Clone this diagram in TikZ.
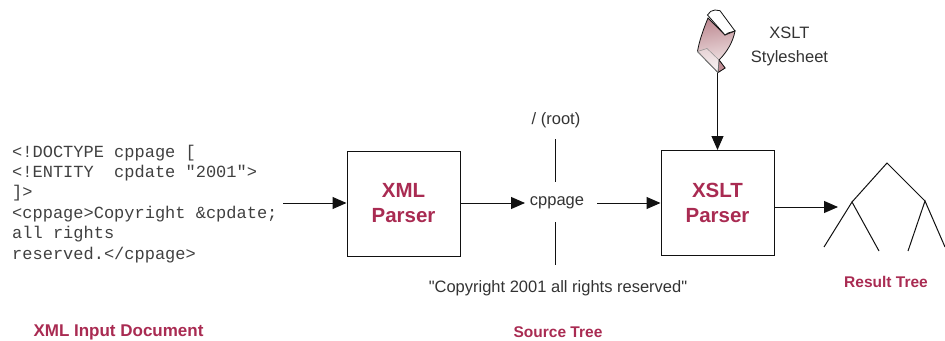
\documentclass[tikz,border=0pt]{standalone}
\usepackage{fontspec}
\setmainfont{Liberation Sans}
\setmonofont{Liberation Mono}
\newfontfamily\labfont{Liberation Sans}
\usetikzlibrary{arrows.meta}
\definecolor{berry}{HTML}{A92B52}
\definecolor{inkline}{HTML}{111111}
\definecolor{sheetdark}{HTML}{BF8C94}
\definecolor{sheetlight}{HTML}{F7F0F0}
\tikzset{
  x=1pt,y=-1pt,
  flow/.style={draw=inkline,line width=1pt,-{Triangle[length=14pt,width=12pt]}},
  plain/.style={draw=inkline,line width=1pt},
  parser/.style={draw=inkline,line width=1pt,minimum width=113pt,minimum height=105pt,inner sep=0pt,
    font=\fontsize{20.5}{25}\selectfont\bfseries,text=berry,align=center},
  caption/.style={font=\fontsize{15.5}{19}\selectfont\bfseries,text=berry,inner sep=0pt},
  lab/.style={font=\labfont\fontsize{16.5}{24}\selectfont,text=black!80,inner sep=0pt,align=center},
  code/.style={font=\fontsize{17}{20.4}\selectfont\ttfamily,text=black!75,inner sep=0pt,align=left,anchor=north west},
}
\begin{document}
\begin{tikzpicture}
\useasboundingbox (0,0) rectangle (945,340);
% text and boxes
\node[code] (input) at (12,144.5) {<!DOCTYPE cppage [\\<!ENTITY~~cpdate "2001">\\]>\\<cppage>Copyright \&cpdate;\\all rights\\reserved.</cppage>};
\node[parser] (xmlp) at (403.5,203.5) {XML\\Parser};
\node[parser] (xsltp) at (717.5,203) {XSLT\\Parser};
\node[lab] (root) at (556,120.5) {/ (root)};
\node[lab] (cppage) at (557,203) {cppage};
\node[lab] (copy) at (558,288.5) {"Copyright 2001 all rights reserved"};
\node[lab] (sheetlab) at (789.5,46.5) {XSLT\\Stylesheet};
\node[caption,font=\fontsize{17}{19}\selectfont\bfseries] (c1) at (118.5,332.5) {XML Input Document};
\node[caption] (c2) at (558,332) {Source Tree};
\node[caption] (c3) at (886,282) {Result Tree};
% stylesheet icon
\path[top color=sheetdark,bottom color=sheetlight,shading angle=10,draw=inkline,line width=.8pt]
  (708,18) .. controls (703,30) and (699,42) .. (697.5,51.5) -- (718,72.5) -- (725,68) -- (719,60) .. controls (727,52) and (733,42) .. (735,31) -- (725,35) -- cycle;
\path[fill=sheetdark,draw=inkline,line width=.7pt] (718,72.5) -- (725,68) -- (719,60) -- cycle;
\path[draw=black!45,line width=.5pt,fill=white,fill opacity=.3] (697.5,51.5) -- (707,48.5) -- (719,60) -- (718,72.5) -- cycle;
\path[draw=inkline,line width=.8pt,fill=white]
  (707.5,15) .. controls (709,12) and (712,10) .. (715,10) -- (720,10.7) -- (735,31) -- (728,33) -- (725,35) -- cycle;
\coordinate (sheet) at (717.5,72.5);
% connectors
\coordinate (inS) at (283,203);
\coordinate (inE) at (346.5,203);
\coordinate (xmlOut) at (460,203);
\coordinate (rootIn) at (525,203);
\coordinate (cpOut) at (597,203);
\coordinate (xsltIn) at (660.5,203);
\coordinate (xsltOut) at (774,207);
\coordinate (treeIn) at (838,207);
\draw[flow] (inS) -- (inE);
\draw[flow] (xmlOut) -- (rootIn);
\draw[flow] (cpOut) -- (xsltIn);
\draw[flow] (xsltOut) -- (treeIn);
\draw[flow] (sheet) -- (xsltp.north);
\coordinate (upA) at (555,139);
\coordinate (upB) at (555,182);
\coordinate (dnA) at (555,222);
\coordinate (dnB) at (555,265);
\draw[plain] (upA) -- (upB);
\draw[plain] (dnA) -- (dnB);
% result tree
\coordinate (apex) at (887,163);
\coordinate (tl) at (852,202);
\coordinate (tr) at (925,201);
\coordinate (l1) at (824,247);
\coordinate (l2) at (879,251);
\coordinate (l3) at (908,251);
\coordinate (l4) at (945,247);
\draw[plain] (l1) -- (tl) -- (l2);
\draw[plain] (tl) -- (apex) -- (tr);
\draw[plain] (l3) -- (tr) -- (l4);
\end{tikzpicture}
\end{document}
